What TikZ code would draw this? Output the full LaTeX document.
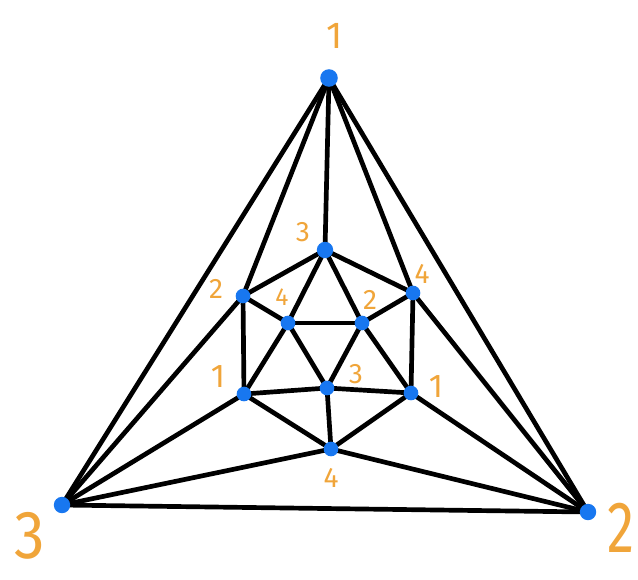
\documentclass[tikz,border=0pt]{standalone}
\usepackage{fontspec}
\setmainfont{Fira Sans}
\definecolor{dotblue}{HTML}{1877F0}
\definecolor{lblorange}{HTML}{F0A53A}
\begin{document}
\begin{tikzpicture}[x=0.03cm,y=-0.03cm,
  vtx/.style={circle,fill=dotblue,inner sep=0pt,minimum size=#1},
  vtx/.default=12.5pt,
  edge/.style={line width=4pt,black,line cap=round},
  lbl/.style={text=lblorange,font=\fontsize{#1}{#1}\selectfont\mdseries,inner sep=0pt},
  lbl/.default=24pt]
\useasboundingbox (0,0) rectangle (638,579);
\coordinate (T) at (329,78);
\coordinate (L) at (62,505);
\coordinate (R) at (588,512);
\coordinate (A) at (325,250);
\coordinate (B) at (243,296);
\coordinate (C) at (413,293);
\coordinate (D) at (288,323);
\coordinate (E) at (362,323);
\coordinate (F) at (244,394);
\coordinate (M) at (327,388);
\coordinate (G) at (411,393);
\coordinate (H) at (331,449);
\foreach \u/\v in {T/L,T/R,L/R,T/A,T/B,T/C,L/B,L/F,L/H,R/C,R/G,R/H,
  A/B,A/C,A/D,A/E,B/D,B/F,C/E,C/G,D/E,D/F,D/M,E/M,E/G,F/M,F/H,G/M,G/H,M/H}
  \draw[edge] (\u) -- (\v);
\node[vtx=15pt] (nT) at (T) {};
\node[vtx=14pt] (nL) at (L) {};
\node[vtx=14pt] (nR) at (R) {};
\node[vtx=14pt] (nA) at (A) {};
\node[vtx] (nB) at (B) {};
\node[vtx] (nC) at (C) {};
\node[vtx] (nD) at (D) {};
\node[vtx] (nE) at (E) {};
\node[vtx] (nF) at (F) {};
\node[vtx] (nM) at (M) {};
\node[vtx] (nG) at (G) {};
\node[vtx] (nH) at (H) {};
\node[lbl=32pt] (lT) at (335,36) {1};
\node[lbl=58pt,xscale=0.9] (lL) at (30,536) {3};
\node[lbl=62pt,xscale=0.75] (lR) at (621,528) {2};
\node[lbl] (lA) at (303,232) {3};
\node[lbl] (lB) at (216,289) {2};
\node[lbl=21pt] (lD) at (282,297) {4};
\node[lbl] (lE) at (370,300) {2};
\node[lbl] (lC) at (422,274) {4};
\node[lbl=28pt] (lF) at (218,377) {1};
\node[lbl] (lM) at (356,374) {3};
\node[lbl=28pt] (lG) at (436,387) {1};
\node[lbl] (lH) at (331,478) {4};
\end{tikzpicture}
\end{document}
